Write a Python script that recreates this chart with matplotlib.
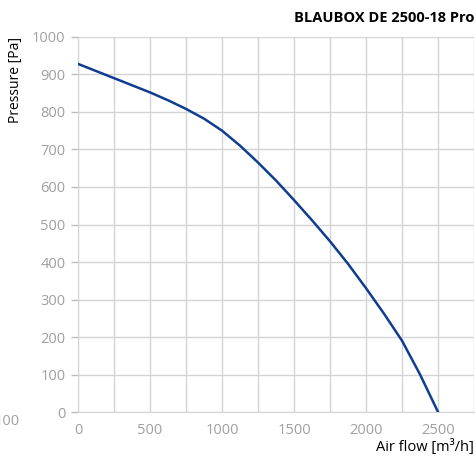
import matplotlib.pyplot as plt
import numpy as np

# curve
airflow = [0, 125, 250, 375, 500, 625, 750, 875, 1000, 1125, 1250, 1375,
           1500, 1625, 1750, 1875, 2000, 2125, 2250, 2375, 2500]
pressure = [928, 909, 890, 871, 852, 831, 808, 782, 750, 710, 665, 617,
            565, 511, 455, 395, 330, 262, 190, 100, 0]

x_ticks = [0, 500, 1000, 1500, 2000, 2500]
y_ticks = [0, 100, 200, 300, 400, 500, 600, 700, 800, 900, 1000]

plt.rcParams['font.family'] = ['Open Sans', 'DejaVu Sans']

fig = plt.figure(figsize=(4.76, 4.61), dpi=100)
ax = fig.add_axes([0.164, 0.106, 0.832, 0.814])

ax.plot(airflow, pressure, color='#0f3d91', lw=1.8, zorder=3)

ax.set_xlim(0, 2750)
ax.set_ylim(0, 1000)
ax.set_xticks(x_ticks)
ax.set_xticks(np.arange(250, 2751, 500), minor=True)
ax.set_yticks(y_ticks)
ax.grid(True, which='both', color='#d4d4d4', lw=1.0)
ax.tick_params(axis='both', which='both', colors='#bdbdbd', labelcolor='#a0a0a0',
               labelsize=10.5, length=0)
ax.tick_params(axis='y', which='major', length=5, width=1, pad=4)
ax.tick_params(axis='x', which='major', pad=8)
for s in ['top', 'right']:
    ax.spines[s].set_visible(False)
for s in ['left', 'bottom']:
    ax.spines[s].set_color('#d4d4d4')

fig.text(0.996, 0.961, 'BLAUBOX DE 2500-18 Pro', ha='right', va='center',
         fontsize=10.5, fontweight='bold', color='black')
fig.text(0.032, 0.92, 'Pressure [Pa]', rotation=90, ha='center', va='top',
         fontsize=10, color='black')
fig.text(0.996, 0.03, 'Air flow [m³/h]', ha='right', va='center',
         fontsize=10.5, color='black')
fig.text(-0.012, 0.085, '100', ha='left', va='center', fontsize=10.5, color='#a0a0a0')

fig.savefig('out.png', dpi=100)
